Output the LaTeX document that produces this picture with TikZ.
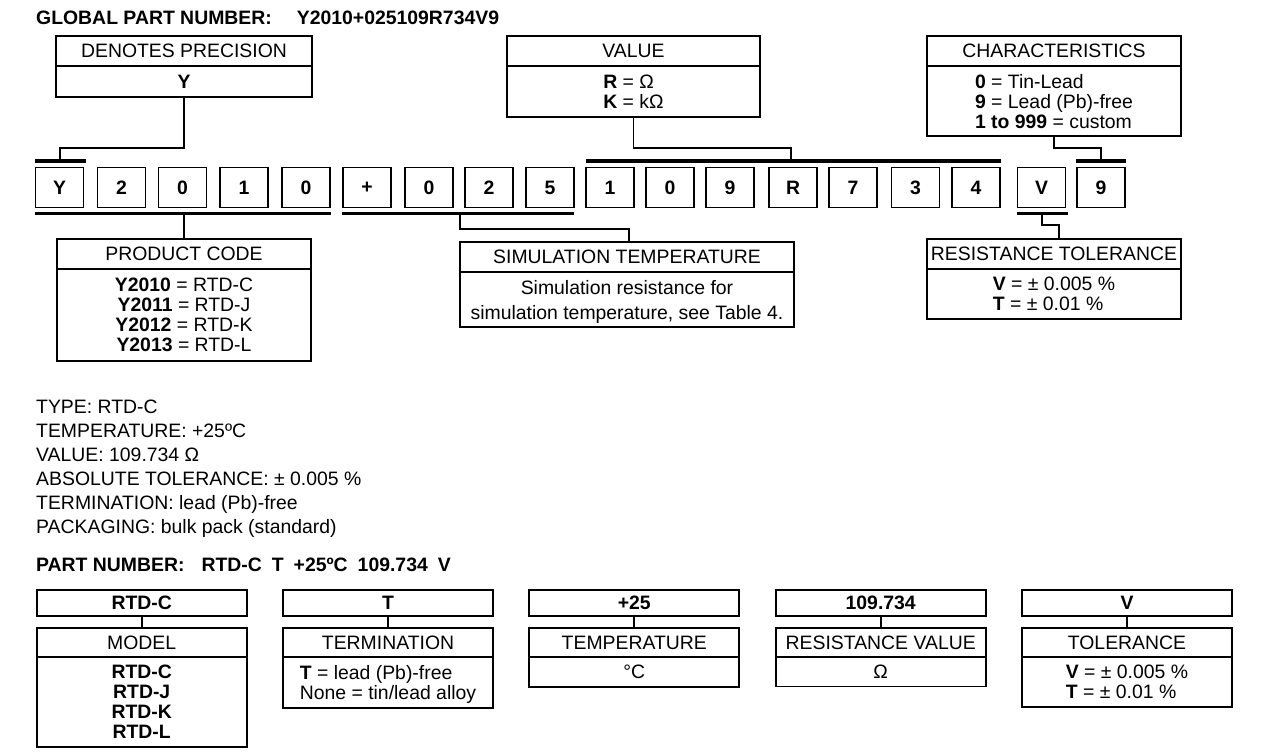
\documentclass[tikz,border=0pt]{standalone}
\usepackage{fontspec}
\setmainfont{Liberation Sans}
\newcommand\fs{\fontsize{19.4}{20}\selectfont}
\begin{document}
\begin{tikzpicture}[x=1pt,y=-1pt,
  box/.style={draw, line width=1.8pt, inner sep=0pt, align=center, font=\fs},
  bodybox/.style={box, text depth=0pt},
  digit/.style={box, minimum width=48pt, minimum height=40pt, font=\fs\bfseries},
  bar/.style={line width=3.6pt},
  wire/.style={line width=1.8pt},
  txtline/.style={anchor=west, inner sep=0pt, text height=13.9pt, text depth=0pt, font=\fs},
  bold line/.style={txtline, font=\fs\bfseries}]
\useasboundingbox (0,0) rectangle (1283,752);

% title
\node[bold line] (title) at (36,18) {GLOBAL PART NUMBER:\hspace{25pt}Y2010+025109R734V9};

% top description boxes
\node[box, minimum width=256pt, minimum height=30pt] (dph) at (184,51) {DENOTES PRECISION};
\node[bodybox, minimum width=256pt, minimum height=31pt, font=\fs\bfseries] (dpb) at (184,81.5) {Y};
\node[box, minimum width=253pt, minimum height=30pt] (valh) at (633.5,51) {VALUE};
\node[bodybox, align=left, minimum width=253pt, minimum height=51pt] (valb) at (633.5,91.5) {\textbf{R} = Ω\\\textbf{K} = kΩ};
\node[box, minimum width=254pt, minimum height=30pt] (chh) at (1054,51) {CHARACTERISTICS};
\node[bodybox, align=left, minimum width=254pt, minimum height=70pt] (chb) at (1054,101) {\textbf{0} = Tin-Lead\\\textbf{9} = Lead (Pb)-free\\\textbf{1 to 999} = custom};

% digit boxes
\foreach \n/\x/\t in {d1/59.5/Y, d2/121.5/2, d3/182.5/0, d4/244/1, d5/306/0, d6/367/+, d7/429/0, d8/489/2, d9/550/5, d10/610/1, d11/670/0, d12/730/9, d13/793/R, d14/853/7, d15/915.5/3, d16/976/4, d17/1041.5/V, d18/1101/9}
  \node[digit] (\n) at (\x,187.5) {\t};

% bars
\coordinate (bYl) at (35,161);   \coordinate (bYr) at (86,161);
\coordinate (bRl) at (586,161);  \coordinate (bRr) at (1001,161);
\coordinate (bCl) at (1076,161); \coordinate (bCr) at (1126,161);
\coordinate (bPl) at (35,213.5);   \coordinate (bPr) at (331,213.5);
\coordinate (bSl) at (342,213.5);  \coordinate (bSr) at (574,213.5);
\coordinate (bVl) at (1017,213.5); \coordinate (bVr) at (1068,213.5);
\foreach \b in {bY,bR,bC,bP,bS,bV} \draw[bar] (\b l) -- (\b r);

% bar attachment points and kinks
\coordinate (bYc) at (60,161);
\coordinate (kY) at (60,148);
\coordinate (kR) at (791,148);
\coordinate (bRc) at (791,161);
\coordinate (kC) at (1101,148);
\coordinate (bCc) at (1101,161);
\coordinate (bPc) at (184,213.5);
\coordinate (bSc) at (460,213.5);
\coordinate (kS) at (629,229);
\coordinate (bVc) at (1042,213.5);
\coordinate (kV) at (1059,225);

% lower description boxes
\node[box, minimum width=254pt, minimum height=30pt] (pch) at (184,254) {PRODUCT CODE};
\node[bodybox, minimum width=254pt, minimum height=92pt] (pcb) at (184,315) {\textbf{Y2010} = RTD-C\\\textbf{Y2011} = RTD-J\\\textbf{Y2012} = RTD-K\\\textbf{Y2013} = RTD-L};
\node[box, minimum width=334pt, minimum height=30pt] (sth) at (627,257) {SIMULATION TEMPERATURE};
\node[bodybox, minimum width=334pt, minimum height=55pt, font=\fontsize{19.4}{25}\selectfont] (stb) at (627,299.5) {Simulation resistance for\\simulation temperature, see Table 4.};
\node[box, minimum width=254pt, minimum height=30pt] (rth) at (1054,254) {RESISTANCE TOLERANCE};
\node[bodybox, align=left, minimum width=254pt, minimum height=50pt] (rtb) at (1054,294) {\textbf{V} = ± 0.005 \%\\\textbf{T} = ± 0.01 \%};

% connectors
\draw[wire] (dpb.south) |- (kY) -- (bYc);
\draw[wire] (valb.south) |- (kR) -- (bRc);
\draw[wire] (chb.south) |- (kC) -- (bCc);
\draw[wire] (bPc) -- (pch.north);
\draw[wire] (bSc) |- (kS) -- (kS |- sth.north);
\draw[wire] (bVc) |- (kV) -- (kV |- rth.north);

% description text
\node[txtline] (t1) at (36,407) {TYPE: RTD-C};
\node[txtline] (t2) at (36,431) {TEMPERATURE: +25ºC};
\node[txtline] (t3) at (36,455) {VALUE: 109.734 Ω};
\node[txtline] (t4) at (36,479) {ABSOLUTE TOLERANCE: ± 0.005 \%};
\node[txtline] (t5) at (36,503) {TERMINATION: lead (Pb)-free};
\node[txtline] (t6) at (36,527) {PACKAGING: bulk pack (standard)};

\node[bold line] (pn) at (36,565) {PART NUMBER:\hspace{17pt}RTD-C\hspace{10pt}T\hspace{10pt}+25ºC\hspace{10pt}109.734\hspace{10pt}V};

% part number boxes
\foreach \n/\x/\t in {m1/141.7/RTD-C, m2/388/T, m3/634.3/+25, m4/880.7/109.734, m5/1127/V}
  \node[box, minimum width=210pt, minimum height=26pt, font=\fs\bfseries] (\n) at (\x,603) {\t};
\foreach \n/\x/\t in {h1/141.7/MODEL, h2/388/TERMINATION, h3/634.3/TEMPERATURE, h4/880.7/RESISTANCE VALUE, h5/1127/TOLERANCE}
  \node[box, minimum width=210pt, minimum height=29pt] (\n) at (\x,642.5) {\t};
\node[bodybox, minimum width=210pt, minimum height=90pt, font=\fs\bfseries] (b1) at (141.7,702) {RTD-C\\RTD-J\\RTD-K\\RTD-L};
\node[bodybox, align=left, minimum width=210pt, minimum height=51pt] (b2) at (388,682.5) {\textbf{T} = lead (Pb)-free\\None = tin/lead alloy};
\node[bodybox, minimum width=210pt, minimum height=30pt] (b3) at (634.3,672) {°C};
\node[bodybox, minimum width=210pt, minimum height=30pt] (b4) at (880.7,671.5) {Ω};
\node[bodybox, align=left, minimum width=210pt, minimum height=50pt] (b5) at (1127,682) {\textbf{V} = ± 0.005 \%\\\textbf{T} = ± 0.01 \%};
\foreach \i in {1,...,5} \draw[wire] (m\i.south) -- (h\i.north);
\end{tikzpicture}
\end{document}
